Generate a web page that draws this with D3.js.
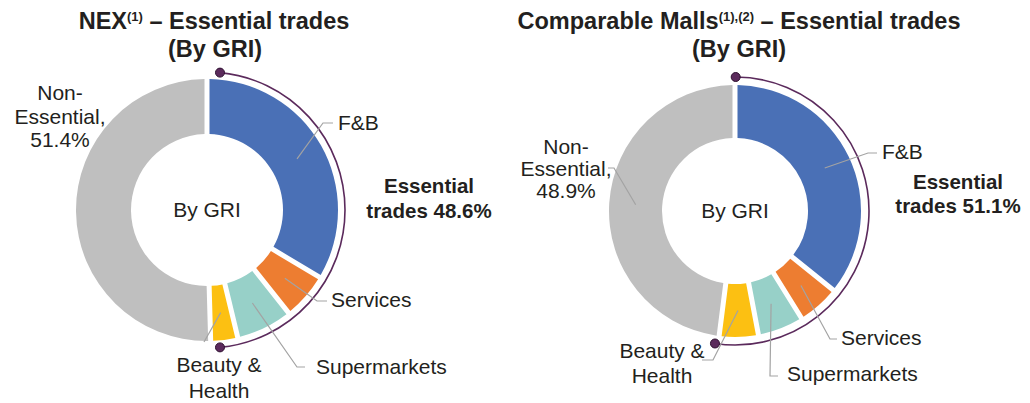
<!DOCTYPE html>
<html>
<head>
<meta charset="utf-8">
<script src="https://cdn.jsdelivr.net/npm/d3@7"></script>
<style>
body {margin:0; background:#fff;}
text {font-family: "Liberation Sans", Arial, sans-serif; fill:#231f20;}
</style>
</head>
<body>
<div class="container"></div>
<script>
const wd = 1030
const ht = 403

// the numbers (% of GRI)
const categories = ["F&B", "Services", "Supermarkets", "Beauty & Health", "Non-Essential"]
const nexValues = [34.0, 5.3, 6.5, 2.8, 51.4]
const mallValues = [36.3, 4.9, 5.4, 4.5, 48.9]
const chartNames = ["NEX", "Comparable Malls"]
const chartNotes = ["(1)", "(1),(2)"]
const centreText = "By GRI"

const colours = ["#4a70b6", "#ed7d31", "#97d0c8", "#fcc012", "#bfbfbf"]
const purple = "#5b2a5c"
const leaderGrey = "#a3a3a3"

// where things sit for each donut
const layouts = [
    {cx: 207, cy: 210, outer: 131, inner: 76, brR: 138, brFrom: 5.4, brTo: 174.6,
     titleX: 214, subX: 215, essX: 429, essY: 193, essGap: 25, centreY: 217,
     labels: [
        {x: 338, y: 130, anchor: "start", pts: [[323, 123], [333, 123]]},
        {x: 331, y: 307, anchor: "start", pts: [[317, 301], [327, 301]]},
        {x: 316, y: 374, anchor: "start", pts: [[297, 367], [305, 367]]},
        {x: 219, y: 372, anchor: "middle", lh: 26, pts: [[204, 342]]},
        {x: 60, y: 100, anchor: "middle", lh: 23.5, pts: null}
     ]},
    {cx: 735, cy: 211, outer: 126, inner: 73, brR: 134, brFrom: 0.3, brTo: 188.6,
     titleX: 739, subX: 739, essX: 958, essY: 189, essGap: 24, centreY: 218,
     labels: [
        {x: 882, y: 159, anchor: "start", pts: [[868, 153], [877, 153]]},
        {x: 841, y: 345, anchor: "start", pts: [[830, 339], [837, 339]]},
        {x: 787, y: 381, anchor: "start", pts: [[770, 376], [778, 376]]},
        {x: 662, y: 358, anchor: "middle", lh: 25, pts: [[713, 360], [702, 360]]},
        {x: 566, y: 154, anchor: "middle", lh: 22, pts: [[614, 168], [608, 168]]}
     ]}
]

const svgC = d3.select(".container")
.append("svg")
.attr("height", ht)
.attr("width", wd)

drawDonut(nexValues, 0)
drawDonut(mallValues, 1)

function labelLines(name, val) {
    if (name == "Beauty & Health") return ["Beauty &", "Health"]
    if (name == "Non-Essential") return ["Non-", "Essential,", val.toFixed(1) + "%"]
    return [name]
}

function drawDonut(values, k) {

    const L = layouts[k]
    const g = svgC.append("g")

    // title, 2 lines, with the little footnote marks
    let t1 = g.append("text")
    .attr("x", L.titleX)
    .attr("y", 29)
    .attr("text-anchor", "middle")
    .style("font-size", "23.5px")
    .style("font-weight", "bold")

    t1.append("tspan").text(chartNames[k])
    t1.append("tspan").text(chartNotes[k]).style("font-size", "13px").attr("dy", -8)
    t1.append("tspan").text(" \u2013 Essential trades").attr("dy", 8)

    g.append("text")
    .attr("x", L.subX)
    .attr("y", 57)
    .attr("text-anchor", "middle")
    .style("font-size", "23.5px")
    .style("font-weight", "bold")
    .text("(By GRI)")

    const pie = d3.pie()
    .sort(null)
    .value(d => d)
    .padAngle(5 / L.outer)

    const arcs = pie(values)

    const arcGen = d3.arc()
    .innerRadius(L.inner)
    .outerRadius(L.outer)
    .padRadius(L.outer)

    const midGen = d3.arc()
    .innerRadius((L.inner + L.outer) / 2)
    .outerRadius((L.inner + L.outer) / 2)

    const donut = g.append("g")
    .attr("transform", `translate(${L.cx},${L.cy})`)

    donut.selectAll("path.slice")
    .data(arcs)
    .enter()
    .append("path")
    .attr("class", "slice")
    .attr("d", arcGen)
    .attr("fill", (d, i) => colours[i])

    // centre text
    g.append("text")
    .attr("x", L.cx)
    .attr("y", L.centreY)
    .attr("text-anchor", "middle")
    .style("font-size", "21px")
    .text(centreText)

    // bracket round the essential part
    const a0 = L.brFrom * Math.PI / 180
    const a1 = L.brTo * Math.PI / 180
    const p = d3.path()
    p.arc(0, 0, L.brR, a0 - Math.PI / 2, a1 - Math.PI / 2)
    donut.append("path")
    .attr("d", p.toString())
    .attr("fill", "none")
    .style("stroke", purple)
    .style("stroke-width", "1.6px")

    donut.selectAll("circle.dot")
    .data([a0, a1])
    .enter()
    .append("circle")
    .attr("class", "dot")
    .attr("cx", a => L.brR * Math.sin(a))
    .attr("cy", a => -L.brR * Math.cos(a))
    .attr("r", 4.5)
    .attr("fill", purple)
    .style("stroke", "#2e1030")
    .style("stroke-width", "1px")

    // essential total
    const essTotal = d3.sum(values.slice(0, 4))
    let et = g.append("text")
    .attr("text-anchor", "middle")
    .style("font-size", "20.5px")
    .style("font-weight", "bold")
    et.append("tspan").attr("x", L.essX).attr("y", L.essY).text("Essential")
    et.append("tspan").attr("x", L.essX).attr("y", L.essY + L.essGap).text("trades " + essTotal.toFixed(1) + "%")

    // labels + leader lines
    const lineFunc = d3.line()
    .x(d => d[0])
    .y(d => d[1])

    arcs.forEach((d, i) => {
        const lab = L.labels[i]
        if (lab.pts) {
            const c = midGen.centroid(d)
            const start = [c[0] + L.cx, c[1] + L.cy]
            g.append("path")
            .attr("d", lineFunc([start].concat(lab.pts)))
            .attr("fill", "none")
            .style("stroke", leaderGrey)
            .style("stroke-width", "1.2px")
        }
        const lines = labelLines(categories[i], values[i])
        let tx = g.append("text")
        .attr("text-anchor", lab.anchor)
        .style("font-size", "21px")
        lines.forEach((s, j) => {
            tx.append("tspan")
            .attr("x", lab.x)
            .attr("y", lab.y + j * (lab.lh || 0))
            .text(s)
        })
    })

}
</script>
</body>
</html>
